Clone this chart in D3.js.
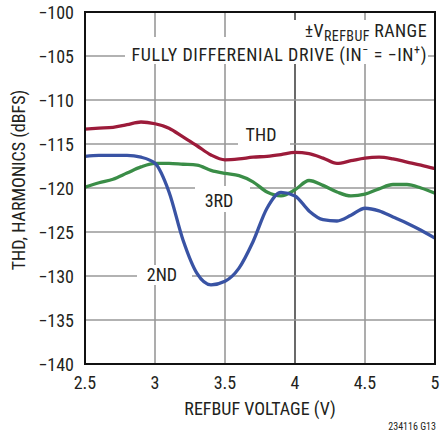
<!DOCTYPE html>
<html>
<head>
<meta charset="utf-8">
<script src="https://cdn.jsdelivr.net/npm/d3@7"></script>
<style>
    body { margin: 0; background: #fff; }
    svg text { font-family: "Liberation Sans Narrow", "Roboto Condensed", "Liberation Sans", sans-serif; fill: #231f20; }
</style>
</head>
<body>
<svg id="chart"></svg>
<script>
// Data
let voltages = [2.5, 2.6, 2.7, 2.8, 2.9, 3.0, 3.1, 3.2, 3.3, 3.4, 3.5, 3.6, 3.7,
    3.8, 3.9, 4.0, 4.1, 4.2, 4.3, 4.4, 4.5, 4.6, 4.7, 4.8, 4.9, 5.0];
let thd = [-113.3, -113.2, -113.1, -112.8, -112.5, -112.7, -113.2, -114.2, -115.2, -116.25,
    -116.8, -116.7, -116.5, -116.4, -116.2, -115.95, -116.1, -116.6, -117.2, -116.9,
    -116.6, -116.5, -116.7, -117.05, -117.4, -117.8];
let third = [-119.9, -119.4, -119.0, -118.3, -117.6, -117.2, -117.2, -117.3, -117.4, -118.0,
    -118.35, -118.6, -119.3, -120.45, -120.9, -120.2, -119.15, -119.7, -120.45, -120.9,
    -120.7, -120.1, -119.6, -119.6, -120.0, -120.6];
let second = [-116.4, -116.3, -116.3, -116.3, -116.5, -117.2, -120.45, -125.9, -129.7, -131.0,
    -130.6, -129.1, -126.1, -122.3, -120.5, -120.9, -122.6, -123.6, -123.75, -123.1,
    -122.3, -122.6, -123.3, -124.0, -124.8, -125.7];
let xTicks = [2.5, 3, 3.5, 4, 4.5, 5];
let yTicks = [-100, -105, -110, -115, -120, -125, -130, -135, -140];

let c = {
    svg: { width: 440, height: 433 },
    plot: { left: 85, right: 435, top: 12, bottom: 364 },
    colors: { thd: '#9c1b3a', third: '#3a8d47', second: '#3953a4', grid: '#999999' }
};

let scales = {};

/**
 * Build the svg, scales and grid
 */
function drawChart() {
    let svg = d3.select('svg#chart')
        .attr('width', c.svg.width)
        .attr('height', c.svg.height);

    scales.x = d3.scaleLinear().domain([2.5, 5]).range([c.plot.left, c.plot.right]);
    scales.y = d3.scaleLinear().domain([-140, -100]).range([c.plot.bottom, c.plot.top]);

    // Grid lines
    let grid = svg.append('g').attr('id', 'grid');
    grid.selectAll('line.v')
        .data(xTicks.slice(1, -1))
        .join('line')
        .attr('x1', d => scales.x(d)).attr('x2', d => scales.x(d))
        .attr('y1', c.plot.top).attr('y2', c.plot.bottom)
        .style('stroke', d => d === 4 ? '#444' : c.colors.grid)
        .style('stroke-width', 1.6);
    grid.selectAll('line.h')
        .data(yTicks.slice(1, -1))
        .join('line')
        .attr('x1', c.plot.left).attr('x2', c.plot.right)
        .attr('y1', d => scales.y(d)).attr('y2', d => scales.y(d))
        .style('stroke', c.colors.grid)
        .style('stroke-width', 1.6);

    // White boxes behind the labels that sit on the grid
    let boxes = [
        [292, 20, 136, 22],
        [125, 37, 303, 27],
        [238, 124, 52, 22],
        [195, 186, 55, 26],
        [137, 265, 55, 20]
    ];
    svg.append('g').selectAll('rect')
        .data(boxes)
        .join('rect')
        .attr('x', d => d[0]).attr('y', d => d[1])
        .attr('width', d => d[2]).attr('height', d => d[3])
        .style('fill', '#fff');

    // Curves
    let series = [
        { name: 'thd', values: thd },
        { name: 'third', values: third },
        { name: 'second', values: second }
    ];
    let line = d3.line()
        .x((d, i) => scales.x(voltages[i]))
        .y(d => scales.y(d))
        .curve(d3.curveMonotoneX);
    svg.append('g').selectAll('path')
        .data(series)
        .join('path')
        .attr('d', d => line(d.values))
        .style('fill', 'none')
        .style('stroke', d => c.colors[d.name])
        .style('stroke-width', 3.3);

    // Frame
    svg.append('path')
        .attr('d', `M${c.plot.left},${c.plot.top}H${c.plot.right}V${c.plot.bottom}H${c.plot.left}Z`)
        .style('fill', 'none')
        .style('stroke', '#111')
        .style('stroke-width', 2);

    // Tick labels
    svg.append('g').selectAll('text')
        .data(yTicks)
        .join('text')
        .attr('x', 74)
        .attr('y', d => scales.y(d) + 6.5)
        .attr('text-anchor', 'end')
        .style('font-size', '18px')
        .text(d => d3.format('d')(d).replace('-', '\u2212'));
    svg.append('g').selectAll('text')
        .data(xTicks)
        .join('text')
        .attr('x', d => scales.x(d))
        .attr('y', 389)
        .attr('text-anchor', 'middle')
        .style('font-size', '18px')
        .text(d => d);

    // Axis titles
    svg.append('text')
        .attr('x', 260).attr('y', 415)
        .attr('text-anchor', 'middle')
        .style('font-size', '18px')
        .text('REFBUF VOLTAGE (V)');
    svg.append('text')
        .attr('transform', translate(25, 180) + ' rotate(-90)')
        .attr('text-anchor', 'middle')
        .style('font-size', '18px')
        .text('THD, HARMONICS (dBFS)');

    // Curve labels
    let labels = [['THD', 261, 141], ['3RD', 219, 207], ['2ND', 162, 281]];
    svg.append('g').selectAll('text')
        .data(labels)
        .join('text')
        .attr('x', d => d[1]).attr('y', d => d[2])
        .attr('text-anchor', 'middle')
        .style('font-size', '18px')
        .text(d => d[0]);

    // Title lines
    let t1 = svg.append('text')
        .attr('x', 427).attr('y', 37)
        .attr('text-anchor', 'end')
        .style('font-size', '18px')
        .style('letter-spacing', '0.4px');
    t1.append('tspan').text('\u00b1V');
    t1.append('tspan').attr('dy', 4).style('font-size', '14px').text('REFBUF');
    t1.append('tspan').attr('dy', -4).text(' RANGE');

    let t2 = svg.append('text')
        .attr('x', 427).attr('y', 61)
        .attr('text-anchor', 'end')
        .style('font-size', '18px')
        .style('letter-spacing', '0.6px');
    t2.append('tspan').text('FULLY DIFFERENIAL DRIVE (IN');
    t2.append('tspan').attr('dy', -7).style('font-size', '12px').text('\u2212');
    t2.append('tspan').attr('dy', 7).text(' = \u2212IN');
    t2.append('tspan').attr('dy', -7).style('font-size', '12px').text('+');
    t2.append('tspan').attr('dy', 7).text(')');

    // Figure code
    svg.append('text')
        .attr('x', 436).attr('y', 430)
        .attr('text-anchor', 'end')
        .style('font-size', '10px')
        .text('234116 G13');
}

/**
 * Helper to build translate strings
 */
function translate(x, y) {
    return 'translate(' + x + ',' + y + ')';
}

drawChart();
</script>
</body>
</html>
